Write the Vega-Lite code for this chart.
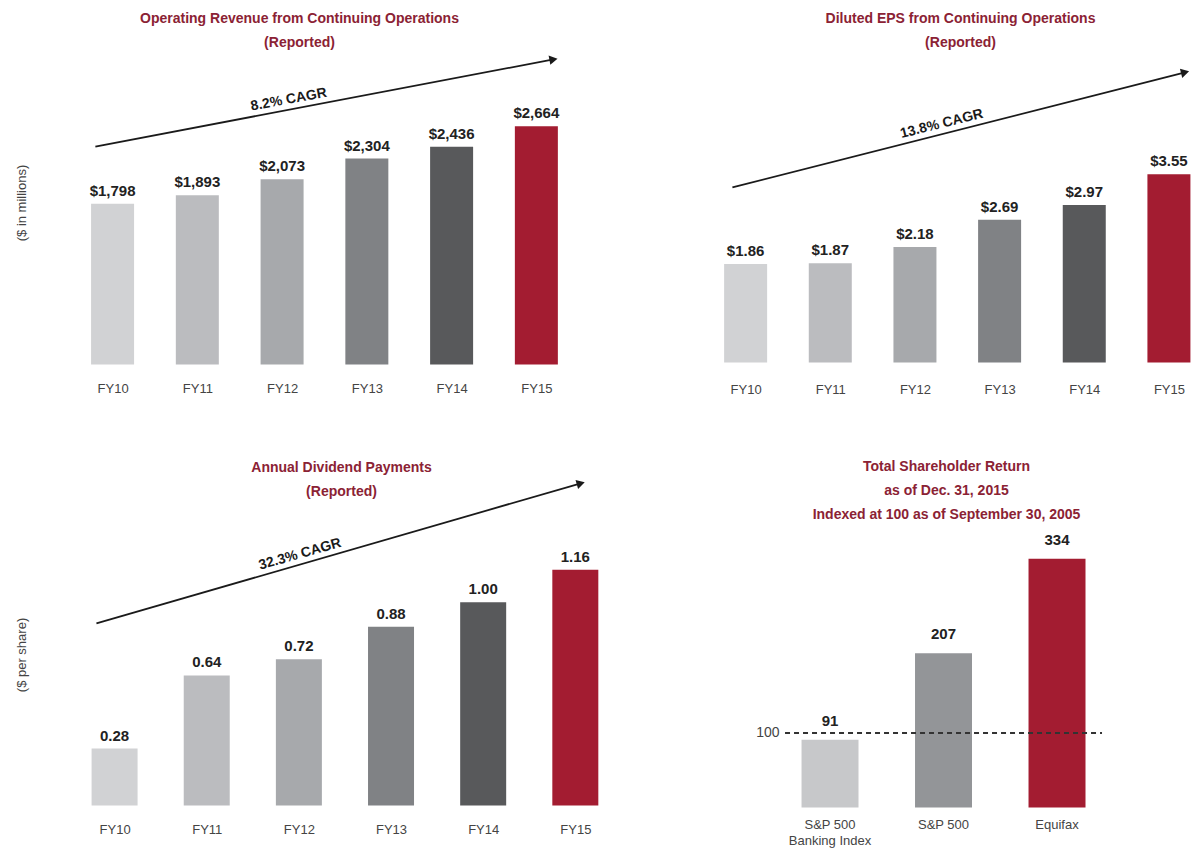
{
  "$schema": "https://vega.github.io/schema/vega-lite/v6.json",
  "background": "white",
  "padding": {"left": 15, "top": 11.5, "right": 0, "bottom": 0},
  "autosize": {"type": "pad"},
  "bounds": "flush",
  "align": "each",
  "columns": 2,
  "spacing": {"row": 166, "column": 74},
  "resolve": {"scale": {"x": "independent", "y": "independent", "color": "independent"}},
  "config": {
    "view": {"stroke": null},
    "title": {"font": "Liberation Sans", "fontSize": 14, "fontWeight": "bold", "color": "#8b2234", "anchor": "middle", "lineHeight": 24, "frame": "group"},
    "axis": {"labelFont": "Liberation Sans Narrow, Liberation Sans", "labelFontSize": 13, "labelColor": "#444444", "titleFont": "Liberation Sans", "titleFontSize": 13, "titleFontWeight": "normal", "titleColor": "#444444", "domain": false, "ticks": false, "grid": false},
    "text": {"font": "Liberation Sans Narrow, Liberation Sans"}
  },
  "datasets": {
    "rev": [
      {"fy": 10, "label": "FY10", "value": 1798},
      {"fy": 11, "label": "FY11", "value": 1893},
      {"fy": 12, "label": "FY12", "value": 2073},
      {"fy": 13, "label": "FY13", "value": 2304},
      {"fy": 14, "label": "FY14", "value": 2436},
      {"fy": 15, "label": "FY15", "value": 2664}
    ],
    "eps": [
      {"fy": 10, "label": "FY10", "value": 1.86},
      {"fy": 11, "label": "FY11", "value": 1.87},
      {"fy": 12, "label": "FY12", "value": 2.18},
      {"fy": 13, "label": "FY13", "value": 2.69},
      {"fy": 14, "label": "FY14", "value": 2.97},
      {"fy": 15, "label": "FY15", "value": 3.55}
    ],
    "div": [
      {"fy": 10, "label": "FY10", "value": 0.28},
      {"fy": 11, "label": "FY11", "value": 0.64},
      {"fy": 12, "label": "FY12", "value": 0.72},
      {"fy": 13, "label": "FY13", "value": 0.88},
      {"fy": 14, "label": "FY14", "value": 1.00},
      {"fy": 15, "label": "FY15", "value": 1.16}
    ],
    "tsr": [
      {"name": "S&P 500 Banking Index", "value": 91},
      {"name": "S&P 500", "value": 207},
      {"name": "Equifax", "value": 334}
    ],
    "tsrBase": [{"from": "S&P 500 Banking Index", "to": "Equifax", "level": 100}],
    "revArrow": [{"x1": 9.797, "y1": 2438, "x2": 15.202, "y2": 3412, "tx": 12.10, "ty": 2852, "text": "8.2% CAGR"}],
    "epsArrow": [{"x1": 9.844, "y1": 3.302, "x2": 15.191, "y2": 5.472, "tx": 12.344, "ty": 4.317, "text": "13.8% CAGR"}],
    "divArrow": [{"x1": 9.803, "y1": 0.896, "x2": 15.059, "y2": 1.585, "tx": 12.042, "ty": 1.189, "text": "32.3% CAGR"}]
  },
  "concat": [
    {
      "width": 525,
      "height": 309,
      "title": {"text": ["Operating Revenue from Continuing Operations", "(Reported)"], "dx": -22, "offset": 5.5},
      "layer": [
        {
          "data": {"name": "rev"},
          "mark": {"type": "bar", "orient": "vertical", "size": 43},
          "encoding": {
            "x": {"field": "fy", "type": "quantitative", "title": null, "scale": {"domain": [9.427, 15.503], "nice": false, "zero": false}, "axis": {"values": [10, 11, 12, 13, 14, 15], "labelExpr": "'FY' + datum.value", "labelPadding": 18}},
            "y": {"field": "value", "type": "quantitative", "title": "($ in millions)", "scale": {"domain": [0, 3456], "nice": false}, "axis": {"labels": false, "titlePadding": 31, "titleY": 147}},
            "color": {"field": "label", "type": "nominal", "legend": null, "scale": {"domain": ["FY10", "FY11", "FY12", "FY13", "FY14", "FY15"], "range": ["#d1d2d4", "#bbbcbf", "#a7a9ac", "#808285", "#58595b", "#a31c31"]}}
          }
        },
        {
          "data": {"name": "rev"},
          "mark": {"type": "text", "baseline": "bottom", "dy": -5, "fontSize": 15, "fontWeight": "bold", "color": "#222222"},
          "encoding": {
            "x": {"field": "fy", "type": "quantitative", "title": null},
            "y": {"field": "value", "type": "quantitative", "title": "($ in millions)"},
            "text": {"field": "value", "type": "quantitative", "format": "$,d"}
          }
        },
        {
          "data": {"name": "revArrow"},
          "mark": {"type": "rule", "color": "#1a1a1a", "strokeWidth": 1.8},
          "encoding": {
            "x": {"field": "x1", "type": "quantitative", "title": null},
            "y": {"field": "y1", "type": "quantitative", "title": "($ in millions)"},
            "x2": {"field": "x2"},
            "y2": {"field": "y2"}
          }
        },
        {
          "data": {"name": "revArrow"},
          "mark": {"type": "point", "shape": "triangle-right", "filled": true, "size": 90, "angle": 349.5, "color": "#1a1a1a", "opacity": 1},
          "encoding": {
            "x": {"field": "x2", "type": "quantitative", "title": null},
            "y": {"field": "y2", "type": "quantitative", "title": "($ in millions)"}
          }
        },
        {
          "data": {"name": "revArrow"},
          "mark": {"type": "text", "baseline": "bottom", "align": "center", "angle": 349.5, "dy": -3, "fontSize": 14, "fontWeight": "bold", "color": "#1a1a1a"},
          "encoding": {
            "x": {"field": "tx", "type": "quantitative", "title": null},
            "y": {"field": "ty", "type": "quantitative", "title": "($ in millions)"},
            "text": {"field": "text"}
          }
        }
      ]
    },
    {
      "width": 497,
      "height": 307,
      "title": {"text": ["Diluted EPS from Continuing Operations", "(Reported)"], "dx": 14, "offset": 5.5},
      "layer": [
        {
          "data": {"name": "eps"},
          "mark": {"type": "bar", "orient": "vertical", "size": 43},
          "encoding": {
            "x": {"field": "fy", "type": "quantitative", "title": null, "scale": {"domain": [9.4965, 15.249], "nice": false, "zero": false}, "axis": {"values": [10, 11, 12, 13, 14, 15], "labelExpr": "'FY' + datum.value", "labelPadding": 21}},
            "y": {"field": "value", "type": "quantitative", "title": null, "scale": {"domain": [0, 5.79], "nice": false}, "axis": null},
            "color": {"field": "label", "type": "nominal", "legend": null, "scale": {"domain": ["FY10", "FY11", "FY12", "FY13", "FY14", "FY15"], "range": ["#d1d2d4", "#bbbcbf", "#a7a9ac", "#808285", "#58595b", "#a31c31"]}}
          }
        },
        {
          "data": {"name": "eps"},
          "mark": {"type": "text", "baseline": "bottom", "dy": -5, "fontSize": 15, "fontWeight": "bold", "color": "#222222"},
          "encoding": {
            "x": {"field": "fy", "type": "quantitative", "title": null},
            "y": {"field": "value", "type": "quantitative", "title": null},
            "text": {"field": "value", "type": "quantitative", "format": "$.2f"}
          }
        },
        {
          "data": {"name": "epsArrow"},
          "mark": {"type": "rule", "color": "#1a1a1a", "strokeWidth": 1.8},
          "encoding": {
            "x": {"field": "x1", "type": "quantitative", "title": null},
            "y": {"field": "y1", "type": "quantitative", "title": null},
            "x2": {"field": "x2"},
            "y2": {"field": "y2"}
          }
        },
        {
          "data": {"name": "epsArrow"},
          "mark": {"type": "point", "shape": "triangle-right", "filled": true, "size": 90, "angle": 346, "color": "#1a1a1a", "opacity": 1},
          "encoding": {
            "x": {"field": "x2", "type": "quantitative", "title": null},
            "y": {"field": "y2", "type": "quantitative", "title": null}
          }
        },
        {
          "data": {"name": "epsArrow"},
          "mark": {"type": "text", "baseline": "bottom", "align": "center", "angle": 346, "dy": -3, "fontSize": 14, "fontWeight": "bold", "color": "#1a1a1a"},
          "encoding": {
            "x": {"field": "tx", "type": "quantitative", "title": null},
            "y": {"field": "ty", "type": "quantitative", "title": null},
            "text": {"field": "text"}
          }
        }
      ]
    },
    {
      "width": 565,
      "height": 275,
      "title": {"text": ["Annual Dividend Payments", "(Reported)"], "offset": -19.5},
      "layer": [
        {
          "data": {"name": "div"},
          "mark": {"type": "bar", "orient": "vertical", "size": 46},
          "encoding": {
            "x": {"field": "fy", "type": "quantitative", "title": null, "scale": {"domain": [9.451, 15.474], "nice": false, "zero": false}, "axis": {"values": [10, 11, 12, 13, 14, 15], "labelExpr": "'FY' + datum.value", "labelPadding": 18}},
            "y": {"field": "value", "type": "quantitative", "title": "($ per share)", "scale": {"domain": [0, 1.353], "nice": false}, "axis": {"labels": false, "titlePadding": 31, "titleY": 124}},
            "color": {"field": "label", "type": "nominal", "legend": null, "scale": {"domain": ["FY10", "FY11", "FY12", "FY13", "FY14", "FY15"], "range": ["#d1d2d4", "#bbbcbf", "#a7a9ac", "#808285", "#58595b", "#a31c31"]}}
          }
        },
        {
          "data": {"name": "div"},
          "mark": {"type": "text", "baseline": "bottom", "dy": -5, "fontSize": 15, "fontWeight": "bold", "color": "#222222"},
          "encoding": {
            "x": {"field": "fy", "type": "quantitative", "title": null},
            "y": {"field": "value", "type": "quantitative", "title": "($ per share)"},
            "text": {"field": "value", "type": "quantitative", "format": ".2f"}
          }
        },
        {
          "data": {"name": "divArrow"},
          "mark": {"type": "rule", "color": "#1a1a1a", "strokeWidth": 1.8},
          "encoding": {
            "x": {"field": "x1", "type": "quantitative", "title": null},
            "y": {"field": "y1", "type": "quantitative", "title": "($ per share)"},
            "x2": {"field": "x2"},
            "y2": {"field": "y2"}
          }
        },
        {
          "data": {"name": "divArrow"},
          "mark": {"type": "point", "shape": "triangle-right", "filled": true, "size": 90, "angle": 344, "color": "#1a1a1a", "opacity": 1},
          "encoding": {
            "x": {"field": "x2", "type": "quantitative", "title": null},
            "y": {"field": "y2", "type": "quantitative", "title": "($ per share)"}
          }
        },
        {
          "data": {"name": "divArrow"},
          "mark": {"type": "text", "baseline": "bottom", "align": "center", "angle": 344, "dy": -3, "fontSize": 14, "fontWeight": "bold", "color": "#1a1a1a"},
          "encoding": {
            "x": {"field": "tx", "type": "quantitative", "title": null},
            "y": {"field": "ty", "type": "quantitative", "title": "($ per share)"},
            "text": {"field": "text"}
          }
        }
      ]
    },
    {
      "width": 497,
      "height": 277,
      "title": {"text": ["Total Shareholder Return", "as of Dec. 31, 2015", "Indexed at 100 as of September 30, 2005"], "offset": 8.5},
      "layer": [
        {
          "data": {"name": "tsr"},
          "mark": {"type": "bar"},
          "encoding": {
            "x": {"field": "name", "type": "nominal", "sort": null, "title": null, "scale": {"domain": ["S&P 500 Banking Index", "S&P 500", "Equifax"], "paddingInner": 0.498, "paddingOuter": 0.9385, "align": 0.486}, "axis": {"labelAngle": 0, "labelPadding": 11, "labelLineHeight": 16, "labelExpr": "datum.label == 'S&P 500 Banking Index' ? ['S&P 500', 'Banking Index'] : datum.label"}},
            "y": {"field": "value", "type": "quantitative", "title": null, "scale": {"domain": [0, 371.8], "nice": false}, "axis": {"values": [100], "offset": -83, "labelPadding": 2, "labelFontSize": 14}},
            "color": {"field": "name", "type": "nominal", "legend": null, "scale": {"domain": ["S&P 500 Banking Index", "S&P 500", "Equifax"], "range": ["#c7c8ca", "#939598", "#a31c31"]}}
          }
        },
        {
          "data": {"name": "tsr"},
          "mark": {"type": "text", "baseline": "bottom", "dy": -11, "fontSize": 15, "fontWeight": "bold", "color": "#222222"},
          "encoding": {
            "x": {"field": "name", "type": "nominal", "sort": null, "title": null},
            "y": {"field": "value", "type": "quantitative", "title": null},
            "text": {"field": "value", "type": "quantitative", "format": "d"}
          }
        },
        {
          "data": {"name": "tsrBase"},
          "mark": {"type": "rule", "strokeDash": [5, 4], "strokeWidth": 2, "color": "#333333", "xOffset": -45, "x2Offset": 45},
          "encoding": {
            "x": {"field": "from", "type": "nominal", "title": null},
            "x2": {"field": "to"},
            "y": {"field": "level", "type": "quantitative", "title": null}
          }
        }
      ]
    }
  ]
}
